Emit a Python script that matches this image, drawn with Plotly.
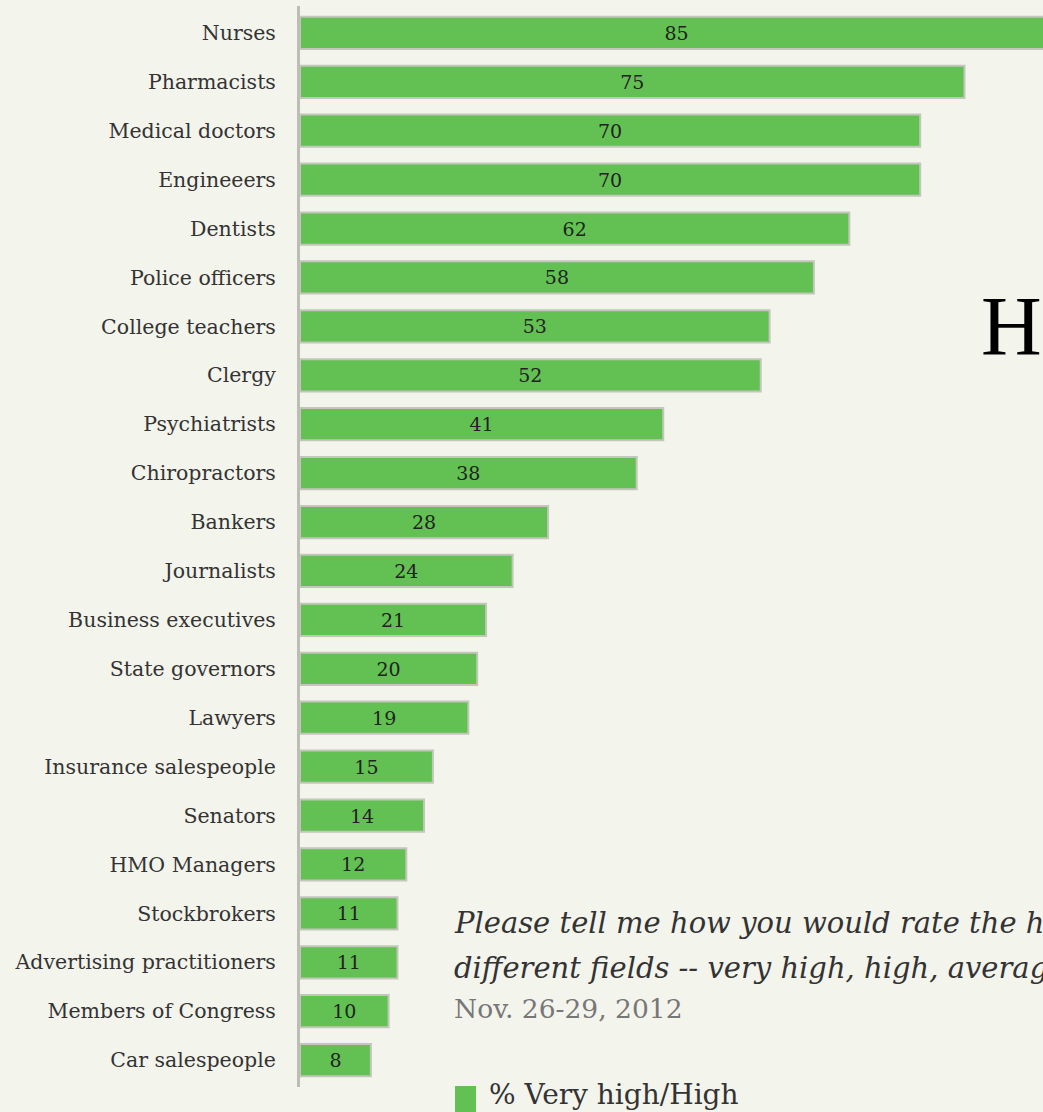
import plotly.graph_objects as go

categories = ["Nurses", "Pharmacists", "Medical doctors", "Engineeers", "Dentists",
              "Police officers", "College teachers", "Clergy", "Psychiatrists",
              "Chiropractors", "Bankers", "Journalists", "Business executives",
              "State governors", "Lawyers", "Insurance salespeople", "Senators",
              "HMO Managers", "Stockbrokers", "Advertising practitioners",
              "Members of Congress", "Car salespeople"]
values = [85, 75, 70, 70, 62, 58, 53, 52, 41, 38, 28, 24, 21, 20, 19, 15, 14, 12, 11, 11, 10, 8]
series_name = "% Very high/High"
title_text = "H"
question_lines = ["Please tell me how you would rate the honesty and ethical standards of people in these",
                  "different fields -- very high, high, average, low, or very low?"]
date_text = "Nov. 26-29, 2012"

W, H = 1043, 1112
ML, MR, MT, MB = 300, 0, 6, 25
PW, PH = W - ML - MR, H - MT - MB

def px(x):
    return (x - ML) / PW

def py(y):
    return (H - MB - y) / PH

BG = "#f3f4ec"
GREEN = "#62c152"

fig = go.Figure()
fig.add_trace(go.Bar(
    y=categories, x=values, orientation="h", name=series_name,
    marker=dict(color=GREEN, line=dict(color="#c4c5bc", width=2)),
    text=[str(v) for v in values], textposition="inside",
    insidetextanchor="middle", textangle=0,
    textfont=dict(family="DejaVu Serif", size=19, color="#222222"),
    width=0.66, showlegend=False, hoverinfo="skip",
))

fig.update_layout(
    width=W, height=H,
    margin=dict(l=ML, r=MR, t=MT, b=MB, pad=0),
    paper_bgcolor=BG, plot_bgcolor=BG,
    showlegend=False,
    xaxis=dict(range=[0, PW / 8.86], visible=False, fixedrange=True),
    yaxis=dict(range=[21.55, -0.55], showline=True, linecolor="#bdbdb5", linewidth=3,
               showgrid=False, zeroline=False, ticks="", ticklabelstandoff=17,
               tickfont=dict(family="DejaVu Serif", size=20.5, color="#333333"),
               fixedrange=True),
)

fig.add_annotation(text=title_text, xref="paper", yref="paper",
                   x=px(979), y=py(327), xanchor="left", yanchor="middle",
                   showarrow=False,
                   font=dict(family="Liberation Serif", size=84, color="#000000"))
for line, yc in zip(question_lines, [923, 968]):
    fig.add_annotation(text="<i>" + line + "</i>", xref="paper", yref="paper",
                       x=px(452), y=py(yc), xanchor="left", yanchor="middle", align="left",
                       showarrow=False,
                       font=dict(family="DejaVu Serif", size=29, color="#333333"))
fig.add_annotation(text=date_text, xref="paper", yref="paper",
                   x=px(452), y=py(1008), xanchor="left", yanchor="middle",
                   showarrow=False,
                   font=dict(family="DejaVu Serif", size=26.5, color="#777777"))
fig.add_shape(type="rect", xref="paper", yref="paper",
              x0=px(455), x1=px(476), y0=py(1086), y1=py(1115),
              fillcolor=GREEN, line=dict(width=0))
fig.add_annotation(text=series_name, xref="paper", yref="paper",
                   x=px(487), y=py(1094), xanchor="left", yanchor="middle",
                   showarrow=False,
                   font=dict(family="DejaVu Serif", size=28, color="#333333"))

fig.write_html("out.html")
